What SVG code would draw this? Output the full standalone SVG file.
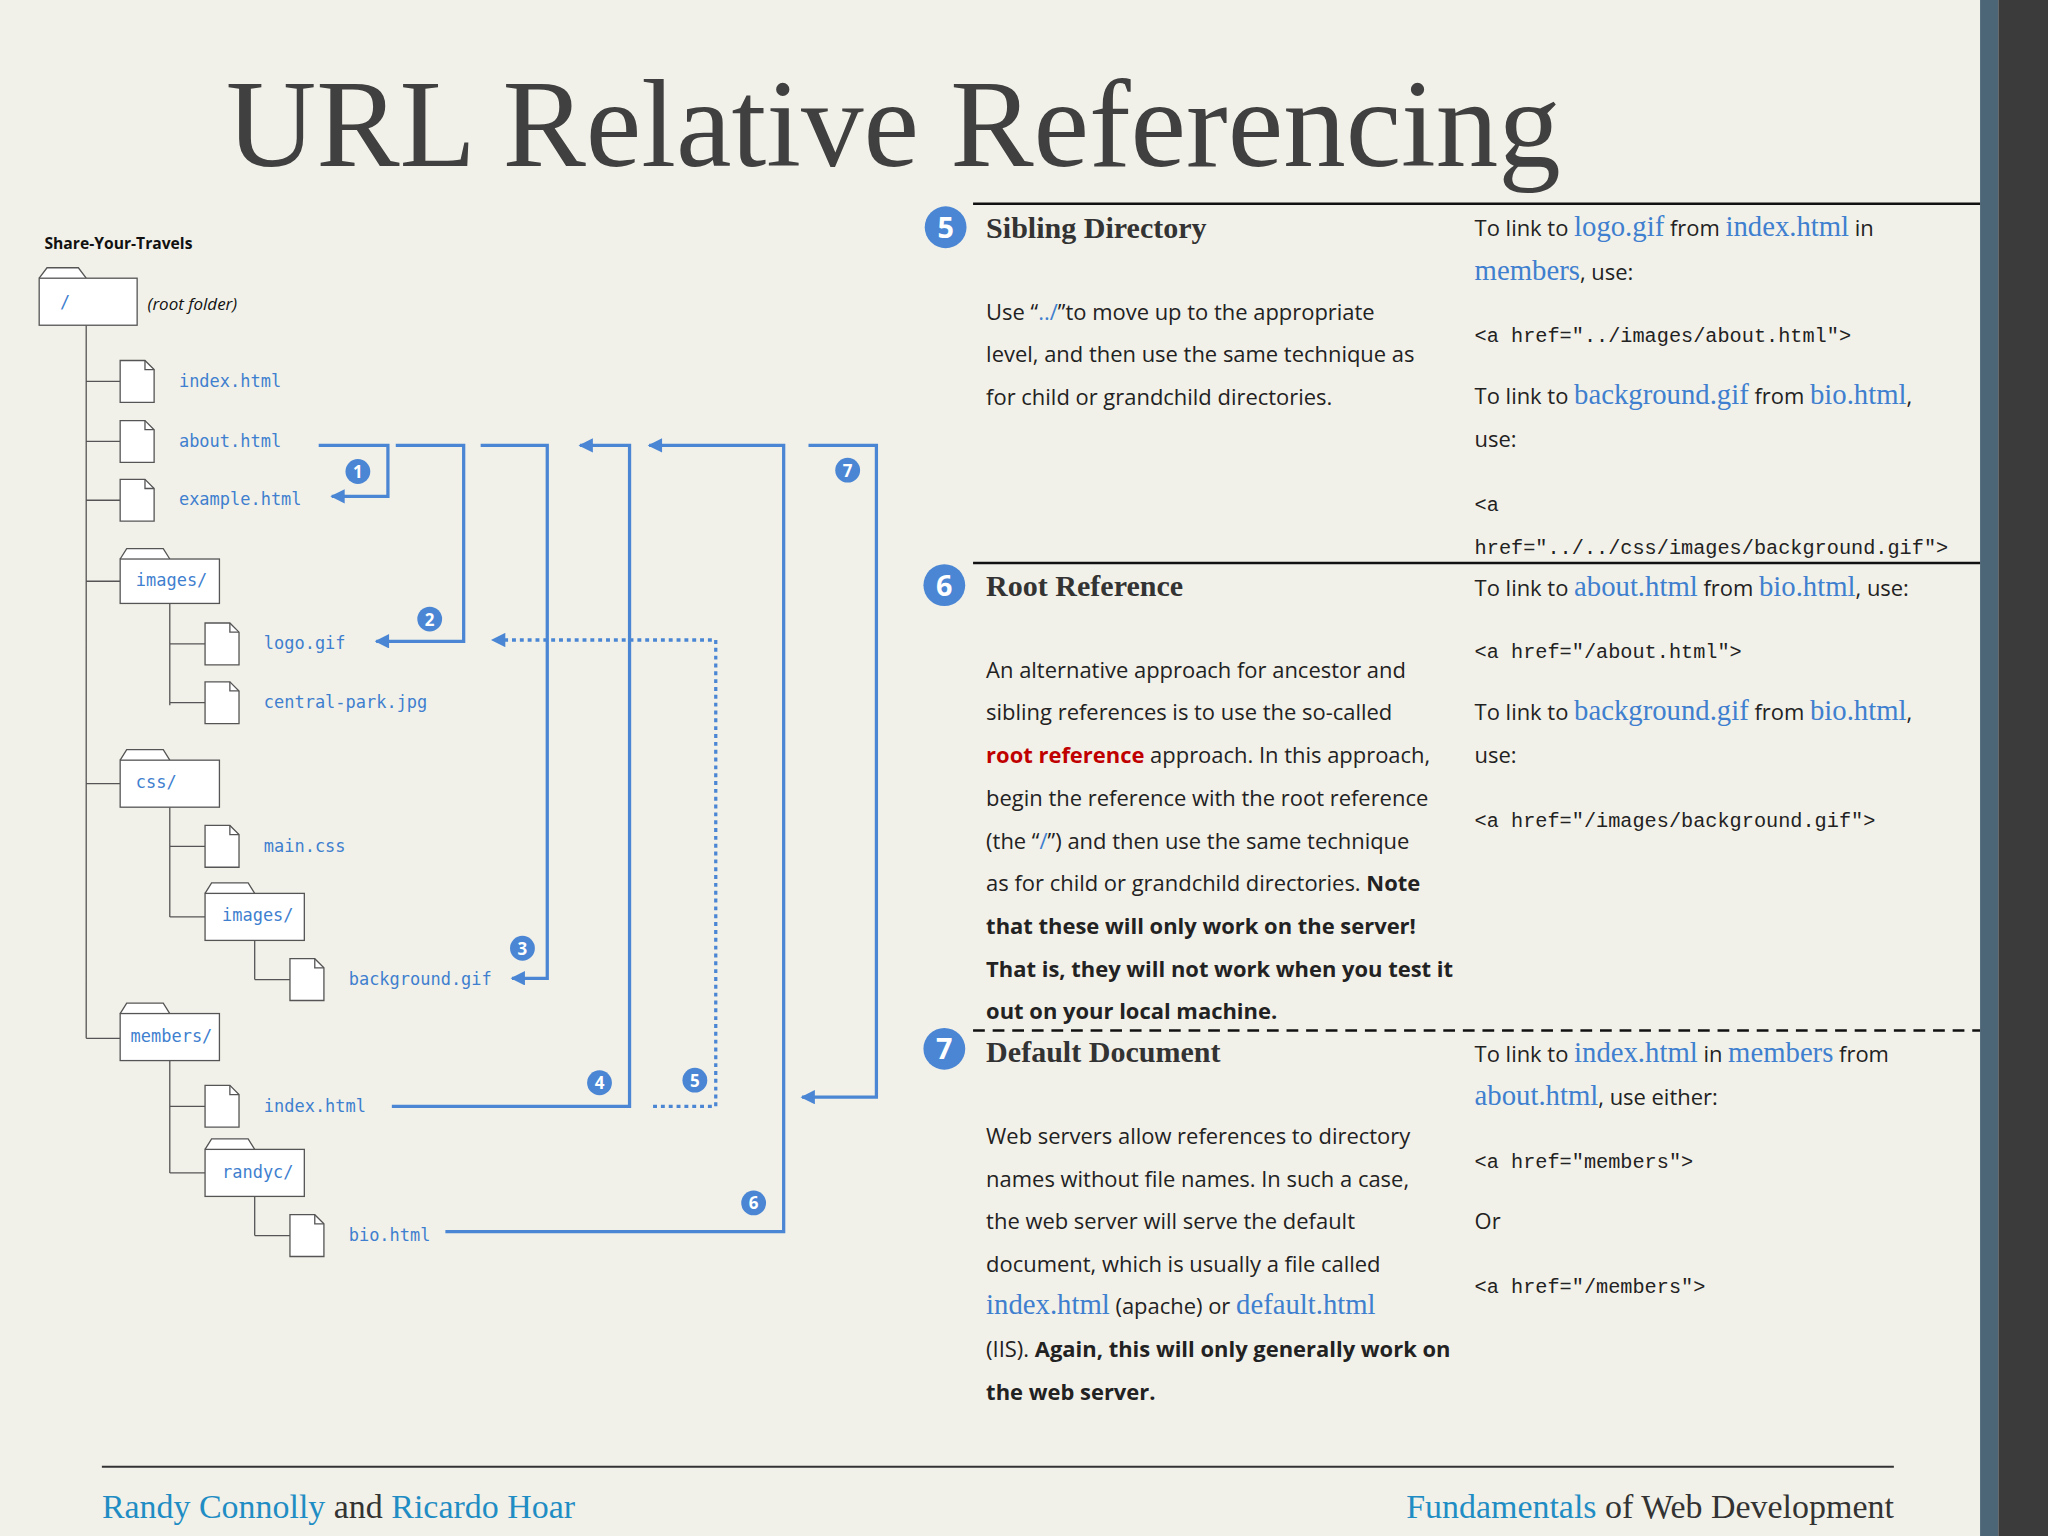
<svg xmlns="http://www.w3.org/2000/svg" width="2048" height="1536" viewBox="0 0 2048 1536">
<defs>
<style>
.fo{fill:#fff;stroke:#555;stroke-width:1}
.br{stroke:#555;stroke-width:1;fill:none}
.fn{font-family:"DejaVu Sans Mono","Liberation Mono",monospace;font-size:13px;fill:#3f7fcf}
.cn{fill:none;stroke:#4a86d4;stroke-width:2.5}
.bd{fill:#4a86d4}
.bt{fill:#fff;font-family:"Open Sans",sans-serif;font-weight:bold;font-size:13px;text-anchor:middle}
.bb{fill:#fff;font-family:"Open Sans",sans-serif;font-weight:bold;font-size:22px;text-anchor:middle}
.hd{font-family:"Liberation Serif",serif;font-weight:bold;font-size:23px;fill:#333}
.tx{font-family:"Open Sans",sans-serif;font-size:16.8px;fill:#222}
.bl{font-family:"Liberation Serif",serif;font-size:22px;fill:#3f7fcf}
.cd{font-family:"Liberation Mono",monospace;font-size:15.5px;fill:#222}
.ft{font-family:"Liberation Serif",serif;font-size:26px}
</style>
<marker id="ah" viewBox="0 0 10 10" refX="9" refY="5" markerWidth="16" markerHeight="11" markerUnits="userSpaceOnUse" orient="auto"><path d="M0,0L10,5L0,10z" fill="#4a86d4"/></marker>
</defs>
<rect width="2048" height="1536" fill="#f2f1e9"/>
<g transform="scale(1.30612)">
<rect x="1516" y="0" width="14" height="1176" fill="#4d6677"/>
<rect x="1530" y="0" width="38" height="1176" fill="#3b3b3b"/>
<text x="173" y="127" font-family="Liberation Serif,serif" font-size="96" fill="#404040" textLength="1022" lengthAdjust="spacingAndGlyphs">URL Relative Referencing</text>

<g id="tree">
<text x="34" y="191" font-family="Open Sans,sans-serif" font-size="12" font-weight="bold" fill="#111">Share-Your-Travels</text>
<path class="br" d="M66,249V795M66,292H92M66,338H92M66,383H92M66,445H92M66,600H92M66,795H92M130,462V540M130,493H157M130,538H157M130,618V702M130,648H157M130,702H157M195,720V750M195,750H222M130,812V898M130,847H157M130,898H157M195,916V946M195,946H222"/>
<g id="root"><path class="fo" d="M30,213L36,205H60L66,213"/><rect class="fo" x="30" y="213" width="75" height="36"/><text class="fn" x="46" y="236">/</text><text x="113" y="237" font-family="Open Sans,sans-serif" font-size="13" font-style="italic" fill="#111">(root folder)</text></g>
<g id="f-index"><path class="fo" d="M92,276H111L118,283V308H92Z"/><path class="br" d="M111,276V283H118"/><text class="fn" x="137" y="296">index.html</text></g>
<g id="f-about"><path class="fo" d="M92,322H111L118,329V354H92Z"/><path class="br" d="M111,322V329H118"/><text class="fn" x="137" y="342">about.html</text></g>
<g id="f-example"><path class="fo" d="M92,367H111L118,374V399H92Z"/><path class="br" d="M111,367V374H118"/><text class="fn" x="137" y="387">example.html</text></g>
<g id="d-images"><path class="fo" d="M92,428L97,420H125L130,428"/><rect class="fo" x="92" y="428" width="76" height="34"/><text class="fn" x="104" y="449">images/</text></g>
<g id="f-logo"><path class="fo" d="M157,477H176L183,484V509H157Z"/><path class="br" d="M176,477V484H183"/><text class="fn" x="202" y="497">logo.gif</text></g>
<g id="f-central"><path class="fo" d="M157,522H176L183,529V554H157Z"/><path class="br" d="M176,522V529H183"/><text class="fn" x="202" y="542">central-park.jpg</text></g>
<g id="d-css"><path class="fo" d="M92,582L97,574H125L130,582"/><rect class="fo" x="92" y="582" width="76" height="36"/><text class="fn" x="104" y="603">css/</text></g>
<g id="f-main"><path class="fo" d="M157,632H176L183,639V664H157Z"/><path class="br" d="M176,632V639H183"/><text class="fn" x="202" y="652">main.css</text></g>
<g id="d-cssimages"><path class="fo" d="M157,684L162,676H190L195,684"/><rect class="fo" x="157" y="684" width="76" height="36"/><text class="fn" x="170" y="705">images/</text></g>
<g id="f-bg"><path class="fo" d="M222,734H241L248,741V766H222Z"/><path class="br" d="M241,734V741H248"/><text class="fn" x="267" y="754">background.gif</text></g>
<g id="d-members"><path class="fo" d="M92,776L97,768H125L130,776"/><rect class="fo" x="92" y="776" width="76" height="36"/><text class="fn" x="100" y="798">members/</text></g>
<g id="f-mindex"><path class="fo" d="M157,831H176L183,838V863H157Z"/><path class="br" d="M176,831V838H183"/><text class="fn" x="202" y="851">index.html</text></g>
<g id="d-randyc"><path class="fo" d="M157,880L162,872H190L195,880"/><rect class="fo" x="157" y="880" width="76" height="36"/><text class="fn" x="170" y="902">randyc/</text></g>
<g id="f-bio"><path class="fo" d="M222,930H241L248,937V962H222Z"/><path class="br" d="M241,930V937H248"/><text class="fn" x="267" y="950">bio.html</text></g>
</g>

<g id="connectors">
<path class="cn" marker-end="url(#ah)" d="M244,341H297V380H254"/>
<path class="cn" marker-end="url(#ah)" d="M303,341H355V491H288"/>
<path class="cn" marker-end="url(#ah)" d="M368,341H419V749H392"/>
<path class="cn" marker-end="url(#ah)" d="M300,847H482V341H444"/>
<path class="cn" stroke-dasharray="3,3" stroke-width="2" marker-end="url(#ah)" d="M500,847H548V490H377"/>
<path class="cn" marker-end="url(#ah)" d="M341,943H600V341H497"/>
<path class="cn" marker-end="url(#ah)" d="M619,341H671V840H614"/>
<circle class="bd" cx="274" cy="361" r="9.5"/><text class="bt" x="274" y="366">1</text>
<circle class="bd" cx="329" cy="474" r="9.5"/><text class="bt" x="329" y="479">2</text>
<circle class="bd" cx="400" cy="726" r="9.5"/><text class="bt" x="400" y="731">3</text>
<circle class="bd" cx="459" cy="829" r="9.5"/><text class="bt" x="459" y="834">4</text>
<circle class="bd" cx="532" cy="827" r="9.5"/><text class="bt" x="532" y="832">5</text>
<circle class="bd" cx="577" cy="921" r="9.5"/><text class="bt" x="577" y="926">6</text>
<circle class="bd" cx="649" cy="360" r="9.5"/><text class="bt" x="649" y="365">7</text>
</g>

<g id="sec5">
<line x1="745" y1="156" x2="1516" y2="156" stroke="#111" stroke-width="2"/>
<circle class="bd" cx="724" cy="174" r="16"/><text class="bb" x="724" y="182">5</text>
<text class="hd" x="755" y="182">Sibling Directory</text>
<text class="tx" x="755" y="245">Use “<tspan fill="#3f7fcf">../</tspan>”to move up to the appropriate</text>
<text class="tx" x="755" y="277">level, and then use the same technique as</text>
<text class="tx" x="755" y="310">for child or grandchild directories.</text>
<text class="tx" x="1129" y="181">To link to <tspan class="bl">logo.gif</tspan> from <tspan class="bl">index.html</tspan> in</text>
<text class="tx" x="1129" y="214"><tspan class="bl">members</tspan>, use:</text>
<text class="cd" x="1129" y="262">&lt;a href="../images/about.html"&gt;</text>
<text class="tx" x="1129" y="309">To link to <tspan class="bl">background.gif</tspan> from <tspan class="bl">bio.html</tspan>,</text>
<text class="tx" x="1129" y="342">use:</text>
<text class="cd" x="1129" y="391">&lt;a</text>
<text class="cd" x="1129" y="424">href="../../css/images/background.gif"&gt;</text>
</g>

<g id="sec6">
<line x1="745" y1="431" x2="1516" y2="431" stroke="#111" stroke-width="2"/>
<circle class="bd" cx="723" cy="448" r="16"/><text class="bb" x="723" y="456">6</text>
<text class="hd" x="755" y="456">Root Reference</text>
<text class="tx" x="755" y="519">An alternative approach for ancestor and</text>
<text class="tx" x="755" y="551">sibling references is to use the so-called</text>
<text class="tx" x="755" y="584"><tspan fill="#c00000" font-weight="bold">root reference</tspan> approach. In this approach,</text>
<text class="tx" x="755" y="617">begin the reference with the root reference</text>
<text class="tx" x="755" y="650">(the “<tspan fill="#3f7fcf">/</tspan>”) and then use the same technique</text>
<text class="tx" x="755" y="682">as for child or grandchild directories. <tspan font-weight="bold">Note</tspan></text>
<text class="tx" x="755" y="715" font-weight="bold">that these will only work on the server!</text>
<text class="tx" x="755" y="748" font-weight="bold">That is, they will not work when you test it</text>
<text class="tx" x="755" y="780" font-weight="bold">out on your local machine.</text>
<text class="tx" x="1129" y="456">To link to <tspan class="bl">about.html</tspan> from <tspan class="bl">bio.html</tspan>, use:</text>
<text class="cd" x="1129" y="504">&lt;a href="/about.html"&gt;</text>
<text class="tx" x="1129" y="551">To link to <tspan class="bl">background.gif</tspan> from <tspan class="bl">bio.html</tspan>,</text>
<text class="tx" x="1129" y="584">use:</text>
<text class="cd" x="1129" y="633">&lt;a href="/images/background.gif"&gt;</text>
</g>

<g id="sec7">
<line x1="745" y1="789" x2="1516" y2="789" stroke="#111" stroke-width="2" stroke-dasharray="9,6"/>
<circle class="bd" cx="723" cy="803" r="16"/><text class="bb" x="723" y="811">7</text>
<text class="hd" x="755" y="813">Default Document</text>
<text class="tx" x="755" y="876">Web servers allow references to directory</text>
<text class="tx" x="755" y="909">names without file names. In such a case,</text>
<text class="tx" x="755" y="941">the web server will serve the default</text>
<text class="tx" x="755" y="974">document, which is usually a file called</text>
<text class="tx" x="755" y="1006"><tspan class="bl">index.html</tspan> (apache) or <tspan class="bl">default.html</tspan></text>
<text class="tx" x="755" y="1039">(IIS). <tspan font-weight="bold">Again, this will only generally work on</tspan></text>
<text class="tx" x="755" y="1072" font-weight="bold">the web server.</text>
<text class="tx" x="1129" y="813">To link to <tspan class="bl">index.html</tspan> in <tspan class="bl">members</tspan> from</text>
<text class="tx" x="1129" y="846"><tspan class="bl">about.html</tspan>, use either:</text>
<text class="cd" x="1129" y="894">&lt;a href="members"&gt;</text>
<text class="tx" x="1129" y="941">Or</text>
<text class="cd" x="1129" y="990">&lt;a href="/members"&gt;</text>
</g>

<g id="footer">
<line x1="78" y1="1123" x2="1450" y2="1123" stroke="#333" stroke-width="1.5"/>
<text class="ft" x="78" y="1162" fill="#333"><tspan fill="#1f8dc4">Randy Connolly</tspan> and <tspan fill="#1f8dc4">Ricardo Hoar</tspan></text>
<text class="ft" x="1450" y="1162" fill="#333" text-anchor="end"><tspan fill="#1f8dc4">Fundamentals</tspan> of Web Development</text>
</g>
</g>
</svg>
